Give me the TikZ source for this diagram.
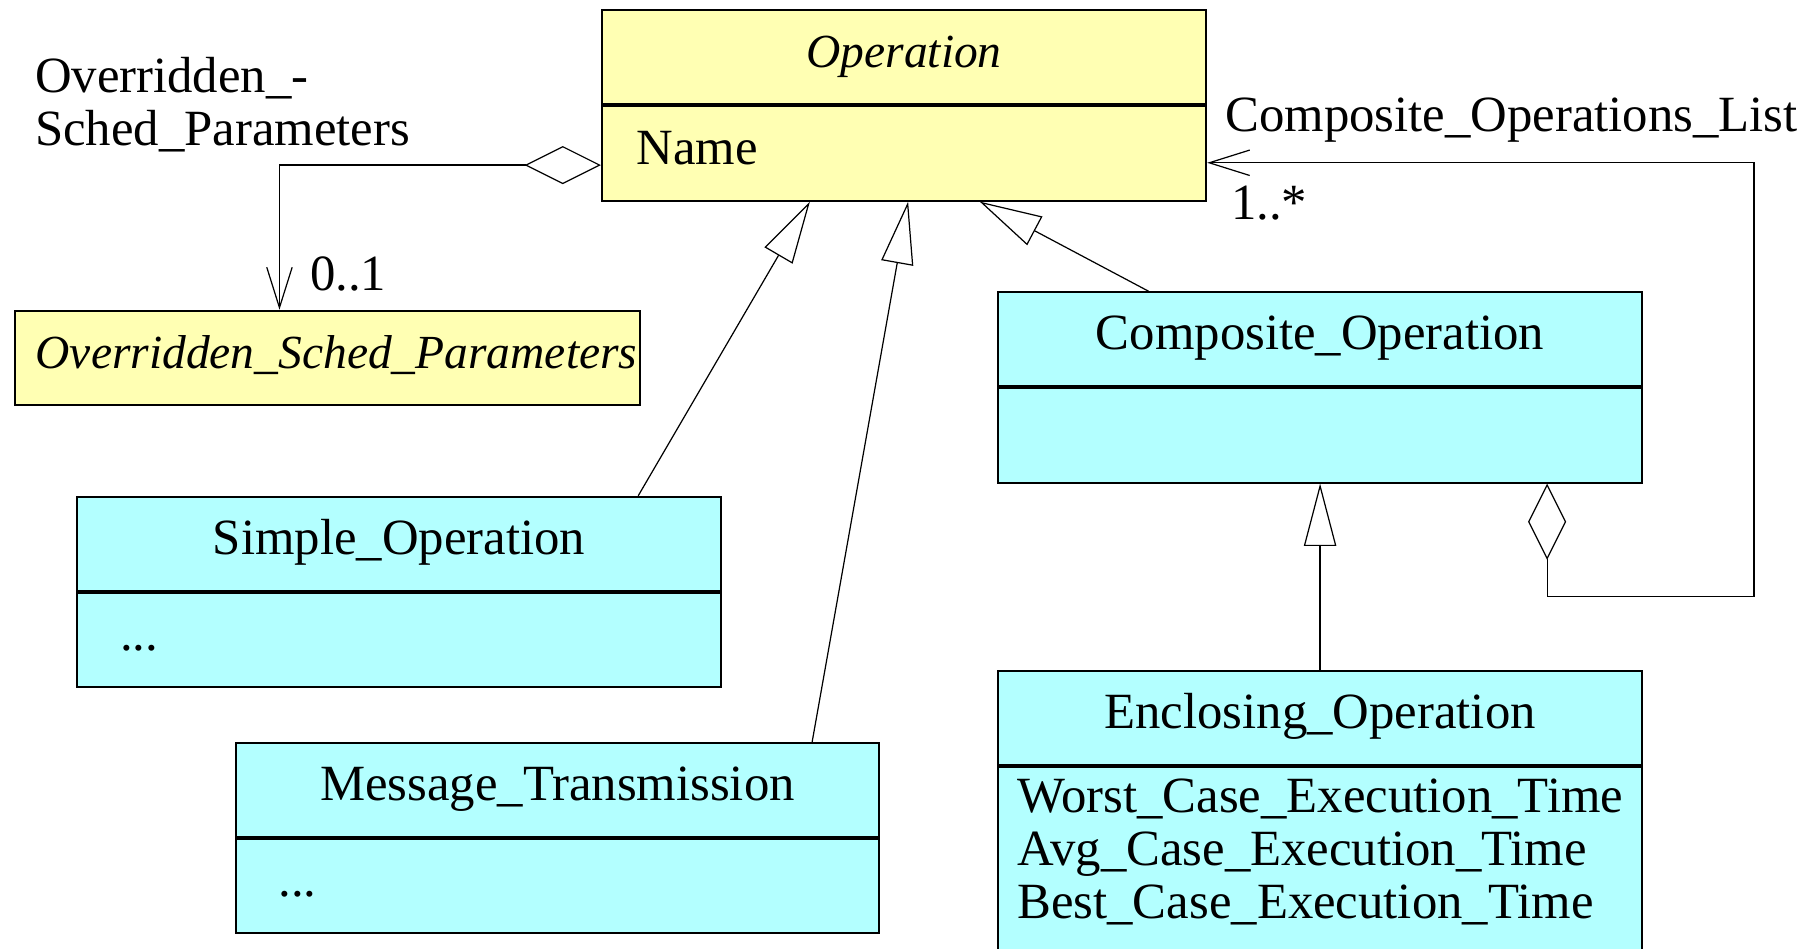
\documentclass[tikz,border=0pt]{standalone}
\usepackage{fontspec}
\setmainfont{Liberation Serif}
\usetikzlibrary{arrows.meta,positioning}
\definecolor{opyellow}{RGB}{255,255,179}
\definecolor{opcyan}{RGB}{179,255,255}
\begin{document}
\begin{tikzpicture}[x=0.02cm, y=-0.02cm,
    every node/.style={font=\fontsize{25}{26.1}\selectfont},
    classpart/.style={draw, line width=1pt, inner sep=0pt, anchor=north west, minimum height=1.63cm},
    abstractpart/.style={classpart, fill=opyellow, minimum width=10.46cm},
    concretepart/.style={classpart, fill=opcyan, minimum width=11.14cm},
    gen/.style={-{Triangle[open, length=1.08cm, width=0.56cm]}, line width=0.6pt},
    aggr/.style={{Diamond[open, length=1.32cm, width=0.66cm]}-{Straight Barb[length=0.7cm, width=0.44cm]}, line width=0.6pt},
    role/.style={anchor=base west, inner sep=0pt}]
  \useasboundingbox (0,0) rectangle (1568,821);
  \node[abstractpart] at (520,8) (ophead) {\fontsize{23.4}{26}\selectfont\strut\textit{Operation}};
  \node[abstractpart, align=left, inner xsep=0.6cm, text width=9.26cm] at (ophead.south west) (opbody) {\strut Name};
  \node[abstractpart, minimum width=10.82cm, align=left, inner xsep=0.36cm, text width=10.1cm] at (12,268) (params) {\fontsize{23.4}{26}\selectfont\strut\mbox{\textit{Overridden\_Sched\_Parameters}}};
  \node[concretepart] at (66,429) (simplehead) {\strut Simple\_Operation};
  \node[concretepart, align=left, inner xsep=0.74cm, text width=9.66cm] at (simplehead.south west) (simplebody) {\strut ...};
  \node[concretepart] at (203,642) (msghead) {\strut Message\_Transmission};
  \node[concretepart, align=left, inner xsep=0.74cm, text width=9.66cm] at (msghead.south west) (msgbody) {\strut ...};
  \node[concretepart] at (863,252) (comphead) {\strut Composite\_Operation};
  \node[concretepart] at (comphead.south west) (compbody) {};
  \node[concretepart] at (863,580) (enchead) {\strut Enclosing\_Operation};
  \node[concretepart, minimum height=4cm] at (enchead.south west) (encbody) {};
  \node[anchor=north west, align=left, inner sep=0pt] at ([xshift=0.34cm, yshift=-0.2cm]encbody.north west) (encattrs) {Worst\_Case\_Execution\_Time\\Avg\_Case\_Execution\_Time\\Best\_Case\_Execution\_Time};
  \draw[gen] ([xshift=4.14cm]simplehead.north) -- ([xshift=-1.63cm]opbody.south);
  \draw[gen] ([xshift=4.41cm]msghead.north) -- ([xshift=0.07cm]opbody.south);
  \draw[gen] ([xshift=-2.97cm]comphead.north) -- ([xshift=1.31cm]opbody.south);
  \draw[gen] (enchead) -- (compbody);
  \draw[aggr] ([yshift=-0.2cm]opbody.west) -| ([xshift=-0.83cm]params.north);
  \draw[aggr] ([xshift=3.93cm]compbody.south) -- ++(0,98) -- ++(179,0) |- ([yshift=-0.16cm]opbody.east);
  \node[role, anchor=north west, align=left] at (30,49) (paramsrole) {Overridden\_-\\Sched\_Parameters};
  \node[role] at (268,251) (paramsmult) {0..1};
  \node[role] at (1060,114) (listrole) {Composite\_Operations\_List};
  \node[role] at (1065,190) (listmult) {1..*};
\end{tikzpicture}
\end{document}
